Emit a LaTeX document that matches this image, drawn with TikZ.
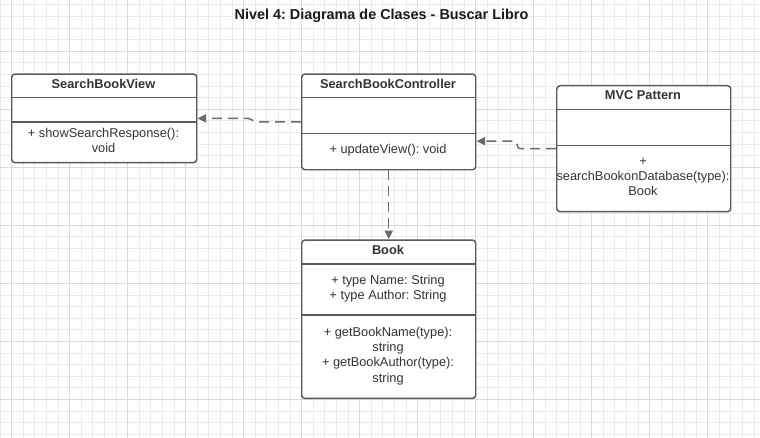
\documentclass[tikz,border=0pt]{standalone}
\usepackage{fontspec}
\setmainfont{Liberation Sans}
\usetikzlibrary{arrows.meta,calc}
\definecolor{gridminor}{HTML}{EBEBEB}
\definecolor{gridmajor}{HTML}{DADADA}
\definecolor{stroke}{HTML}{5A5A5A}
\definecolor{conncol}{HTML}{6A6A6A}
\definecolor{txt}{HTML}{333333}
\frenchspacing
\begin{document}
\begin{tikzpicture}[x=0.75pt,y=-0.75pt,
  box/.style={draw=stroke, line width=1.1pt, rounded corners=2.5pt, fill=white, inner sep=0pt, anchor=north west},
  divider/.style={draw=stroke, line width=1.1pt},
  lbl/.style={text=txt, font=\fontsize{9.6}{11.5}\selectfont, align=center, inner sep=0pt},
  ttl/.style={text=txt, font=\fontsize{9.6}{11.5}\selectfont\bfseries, align=center, inner sep=0pt},
  conn/.style={draw=conncol, line width=1.1pt, dash pattern=on 7.5pt off 4.5pt, -{Triangle[length=6.5pt,width=6pt]}}
]
\useasboundingbox (0,0) rectangle (760,438);
\fill[white] (0,0) rectangle (760,438);
% grid
\foreach \i in {0,...,65} \draw[gridminor, line width=0.75pt] (\i*11.6,0) -- (\i*11.6,438);
\foreach \i in {0,...,37} \draw[gridminor, line width=0.75pt] (0,5+\i*11.6) -- (760,5+\i*11.6);
\foreach \i in {0,...,12} \draw[gridmajor, line width=0.75pt] (11.6+\i*58,0) -- (11.6+\i*58,438);
\foreach \i in {0,...,6} \draw[gridmajor, line width=0.75pt] (0,51.7+\i*58) -- (760,51.7+\i*58);

% title
\node[text=black!90, font=\fontsize{10.8}{13}\selectfont\bfseries, inner sep=0pt] (title) at (381.5,16) {Nivel 4: Diagrama de Clases - Buscar Libro};

% SearchBookView
\node[box, minimum width=138.75pt, minimum height=66.5pt] (view) at (11,73.3) {};
\draw[divider] ($(view.north west)+(0,24)$) -- ($(view.north east)+(0,24)$);
\draw[divider] ($(view.north west)+(0,48.7)$) -- ($(view.north east)+(0,48.7)$);
\node[ttl] (viewT) at (103.5,84) {SearchBookView};
\node[lbl] (viewM) at (103.5,140.7) {+ showSearchResponse():\\void};

% SearchBookController
\node[box, minimum width=130.5pt, minimum height=71.8pt] (ctrl) at (301,73.3) {};
\draw[divider] ($(ctrl.north west)+(0,24.4)$) -- ($(ctrl.north east)+(0,24.4)$);
\draw[divider] ($(ctrl.north west)+(0,60)$) -- ($(ctrl.north east)+(0,60)$);
\node[ttl] (ctrlT) at (388,84) {SearchBookController};
\node[lbl] (ctrlM) at (388,150) {+ updateView(): void};

% MVC Pattern
\node[box, minimum width=130.5pt, minimum height=94.5pt] (mvc) at (556,85) {};
\draw[divider] ($(mvc.north west)+(0,24.3)$) -- ($(mvc.north east)+(0,24.3)$);
\draw[divider] ($(mvc.north west)+(0,60.3)$) -- ($(mvc.north east)+(0,60.3)$);
\node[ttl] (mvcT) at (643,94.7) {MVC Pattern};
\node[lbl] (mvcM) at (643,176.8) {+\\searchBookonDatabase(type):\\Book};

% Book
\node[box, minimum width=130.5pt, minimum height=118.8pt] (book) at (301,239.3) {};
\draw[divider] ($(book.north west)+(0,24.7)$) -- ($(book.north east)+(0,24.7)$);
\draw[divider] ($(book.north west)+(0,75.7)$) -- ($(book.north east)+(0,75.7)$);
\node[ttl] (bookT) at (388,250) {Book};
\node[lbl] (bookA) at (388,288.4) {+ type Name: String\\+ type Author: String};
\node[lbl] (bookM) at (388,355.7) {+ getBookName(type):\\string\\+ getBookAuthor(type):\\string};

% connectors
\coordinate (ctrlR) at ($(ctrl.north east)!0.698!(ctrl.south east)$);
\draw[conn] (ctrl.west) -- ($(ctrl.west)+(-45,0)$) to[out=180,in=0] ($(view.east)+(51,0)$) -- (view.east);
\draw[conn] (mvc.west) -- ($(mvc.west)+(-36,0)$) to[out=180,in=0] ($(ctrlR)+(38,0)$) -- (ctrlR);
\draw[conn] (ctrl.south) -- (book.north);
\end{tikzpicture}
\end{document}
